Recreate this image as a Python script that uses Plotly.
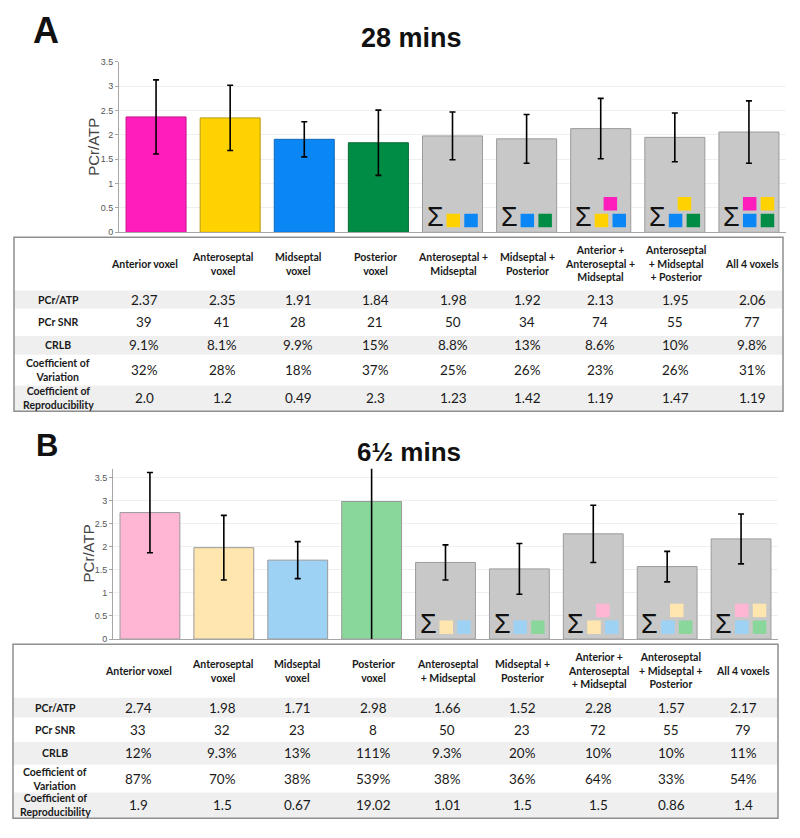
import plotly.graph_objects as go

# ---------------- data ----------------
categories = ["Anterior voxel", "Anteroseptal voxel", "Midseptal voxel", "Posterior voxel",
              "Anteroseptal + Midseptal", "Midseptal + Posterior",
              "Anterior + Anteroseptal + Midseptal", "Anteroseptal + Midseptal + Posterior",
              "All 4 voxels"]

header_a = ["Anterior voxel", "Anteroseptal<br>voxel", "Midseptal<br>voxel", "Posterior<br>voxel",
            "Anteroseptal +<br>Midseptal", "Midseptal +<br>Posterior",
            "Anterior +<br>Anteroseptal +<br>Midseptal", "Anteroseptal<br>+ Midseptal<br>+ Posterior",
            "All 4 voxels"]
header_b = ["Anterior voxel", "Anteroseptal<br>voxel", "Midseptal<br>voxel", "Posterior<br>voxel",
            "Anteroseptal<br>+ Midseptal", "Midseptal +<br>Posterior",
            "Anterior +<br>Anteroseptal<br>+ Midseptal", "Anteroseptal<br>+ Midseptal +<br>Posterior",
            "All 4 voxels"]
row_labels = ["PCr/ATP", "PCr SNR", "CRLB", "Coefficient of<br>Variation", "Coefficient of<br>Reproducibility"]

# Panel A (28 mins)
pcr_atp_a = [2.37, 2.35, 1.91, 1.84, 1.98, 1.92, 2.13, 1.95, 2.06]
err_a = [0.76, 0.67, 0.36, 0.67, 0.49, 0.50, 0.62, 0.50, 0.64]
snr_a = ["39", "41", "28", "21", "50", "34", "74", "55", "77"]
crlb_a = ["9.1%", "8.1%", "9.9%", "15%", "8.8%", "13%", "8.6%", "10%", "9.8%"]
cov_a = ["32%", "28%", "18%", "37%", "25%", "26%", "23%", "26%", "31%"]
cor_a = ["2.0", "1.2", "0.49", "2.3", "1.23", "1.42", "1.19", "1.47", "1.19"]

# Panel B (6 1/2 mins)
pcr_atp_b = [2.74, 1.98, 1.71, 2.98, 1.66, 1.52, 2.28, 1.57, 2.17]
err_b = [0.87, 0.70, 0.40, 3.50, 0.38, 0.55, 0.62, 0.33, 0.54]
snr_b = ["33", "32", "23", "8", "50", "23", "72", "55", "79"]
crlb_b = ["12%", "9.3%", "13%", "111%", "9.3%", "20%", "10%", "10%", "11%"]
cov_b = ["87%", "70%", "38%", "539%", "38%", "36%", "64%", "33%", "54%"]
cor_b = ["1.9", "1.5", "0.67", "19.02", "1.01", "1.5", "1.5", "0.86", "1.4"]

# which single voxels make up each combined bar (index into the first four)
combos = {4: [1, 2], 5: [2, 3], 6: [0, 1, 2], 7: [1, 2, 3], 8: [0, 1, 2, 3]}

colors_a = ["#FF1DBB", "#FFD200", "#0A86F5", "#008C45"]
edges_a = ["#c8178f", "#b89a10", "#1468b8", "#0b6a38"]
colors_b = ["#FFB6D4", "#FFE6AE", "#9DD2F5", "#8AD79C"]
edges_b = ["#9a9a9a"] * 4
gray = "#C8C8C8"
gray_edge = "#9b9b9b"

# ---------------- layout geometry ----------------
# page body has an 8px margin, so the figure is placed at (8, 8) in the window
OFF = 8
W, H = 792, 830
def px(x):
    return (x - OFF) / W
def py(y):
    return 1 - (y - OFF) / H

fig = go.Figure()

panels = [
    dict(xa="x", ya="y", yd=(57.5, 230), yr=3.5, vals=pcr_atp_a, err=err_a,
         cols=colors_a, edges=edges_a),
    dict(xa="x2", ya="y2", yd=(469.3, 641.7), yr=3.69, vals=pcr_atp_b, err=err_b,
         cols=colors_b, edges=edges_b),
]

idx = list(range(len(categories)))
annotations = []
shapes = []

for p in panels:
    fig.add_trace(go.Bar(
        x=idx, y=p["vals"], xaxis=p["xa"], yaxis=p["ya"], width=0.81,
        marker=dict(color=p["cols"] + [gray] * 5,
                    line=dict(color=p["edges"] + [gray_edge] * 5, width=1)),
        error_y=dict(type="data", array=p["err"], symmetric=True, color="black",
                     thickness=1.6, width=3),
        hovertext=categories, showlegend=False))
    # composition icons
    ppu = (p["yd"][1] - p["yd"][0]) / p["yr"]
    y_bot, y_top = 12.0 / ppu, 29.0 / ppu
    mx, my, mc = [], [], []
    for i, comp in combos.items():
        n = len(comp)
        if n == 2:
            top, bot = [], comp
        elif n == 3:
            top, bot = comp[:1], comp[1:]
        else:
            top, bot = comp[:2], comp[2:]
        for k, c in enumerate(bot):
            mx.append(i + 0.01 + 0.24 * k); my.append(y_bot); mc.append(p["cols"][c])
        if len(top) == 1:
            mx.append(i + 0.13); my.append(y_top); mc.append(p["cols"][top[0]])
        else:
            for k, c in enumerate(top):
                mx.append(i + 0.01 + 0.24 * k); my.append(y_top); mc.append(p["cols"][c])
        annotations.append(dict(text="Σ", x=i - 0.235, y=0, xref=p["xa"], yref=p["ya"],
                                xanchor="center", yanchor="bottom", yshift=-2, showarrow=False,
                                font=dict(family="Liberation Sans", size=27, color="#111")))
    fig.add_trace(go.Scatter(x=mx, y=my, xaxis=p["xa"], yaxis=p["ya"], mode="markers",
                             marker=dict(symbol="square", size=13.5, color=mc, line=dict(width=0)),
                             hoverinfo="skip", showlegend=False))

axis_common = dict(showline=True, linecolor="#a6a6a6", linewidth=1, zeroline=False)
tickfont = dict(family="Liberation Sans", size=9, color="#555")
fig.update_layout(
    xaxis=dict(domain=[px(119), px(786)], range=[-0.5, 8.5], showticklabels=False, ticks="",
               showgrid=False, anchor="y", **axis_common),
    yaxis=dict(domain=[py(230), py(57.5)], range=[0, 3.5], dtick=0.5, anchor="x",
               showgrid=True, gridcolor="#efefef", ticks="outside", ticklen=3, tickcolor="#a6a6a6",
               tickfont=tickfont, **axis_common),
    xaxis2=dict(domain=[px(113), px(778)], range=[-0.5, 8.5], showticklabels=False, ticks="",
                showgrid=False, anchor="y2", **axis_common),
    yaxis2=dict(domain=[py(641.7), py(469.3)], range=[0, 3.69], dtick=0.5, anchor="x2",
                showgrid=True, gridcolor="#efefef", ticks="outside", ticklen=3, tickcolor="#a6a6a6",
                tickfont=tickfont, **axis_common),
)

# titles and panel letters
extra = [
    dict(text="<b>A</b>", x=px(46), y=py(26), font=dict(family="Liberation Sans", size=36, color="#111")),
    dict(text="<b>28 mins</b>", x=px(412), y=py(33), font=dict(family="Liberation Sans", size=27, color="#111")),
    dict(text="<b>B</b>", x=px(47), y=py(446), font=dict(family="Liberation Sans", size=31, color="#111")),
    dict(text="<b>6½ mins</b>", x=px(409), y=py(452), font=dict(family="Liberation Sans", size=26, color="#111")),
    dict(text="PCr/ATP", x=px(93.5), y=py(144), textangle=-90,
         font=dict(family="Liberation Sans", size=15, color="#444")),
    dict(text="PCr/ATP", x=px(88), y=py(555), textangle=-90,
         font=dict(family="Liberation Sans", size=15, color="#444")),
]
for a in extra:
    a.update(xref="paper", yref="paper", showarrow=False, xanchor="center", yanchor="middle")
annotations += extra

# ---------------- tables ----------------
tables = [
    dict(left=14, right=783, bounds=[235, 289, 307, 335, 354, 385, 411],
         colx=[58, 144, 222, 298, 375, 453, 527, 600, 675, 752], header=header_a,
         cols=[pcr_atp_a, snr_a, crlb_a, cov_a, cor_a]),
    dict(left=13, right=778, bounds=[647, 701, 721, 746, 769, 797, 823],
         colx=[55, 138, 222, 297, 373, 447, 522, 598, 671, 743], header=header_b,
         cols=[pcr_atp_b, snr_b, crlb_b, cov_b, cor_b]),
]
font_tab = "Lato"
cell = dict(xref="paper", yref="paper", showarrow=False, xanchor="center", yanchor="middle",
            align="center")
for t in tables:
    b = t["bounds"]
    # banded rows
    for r in range(5):
        if r % 2 == 0:
            shapes.append(dict(type="rect", xref="paper", yref="paper",
                               x0=px(t["left"]), x1=px(t["right"]), y0=py(b[r + 2]), y1=py(b[r + 1]),
                               fillcolor="#efefef", line=dict(width=0), layer="below"))
    shapes.append(dict(type="rect", xref="paper", yref="paper",
                       x0=px(t["left"]), x1=px(t["right"]), y0=py(b[-1]), y1=py(b[0]),
                       line=dict(color="#8f8f8f", width=1.5), fillcolor="rgba(0,0,0,0)"))
    hy = (b[0] + b[1]) / 2
    for j, h in enumerate(t["header"]):
        annotations.append(dict(text="<b>" + h + "</b>", x=px(t["colx"][j + 1]), y=py(hy),
                                font=dict(family=font_tab, size=10.5, color="#1a1a1a"), **cell))
    for r, lab in enumerate(row_labels):
        cy = (b[r + 1] + b[r + 2]) / 2
        annotations.append(dict(text="<b>" + lab + "</b>", x=px(t["colx"][0]), y=py(cy),
                                font=dict(family=font_tab, size=10.5, color="#1a1a1a"), **cell))
        vals = t["cols"][r]
        for j in range(9):
            v = vals[j]
            txt = f"{v:.2f}" if isinstance(v, float) else v
            annotations.append(dict(text=txt, x=px(t["colx"][j + 1]), y=py(cy),
                                    font=dict(family=font_tab, size=13.5, color="#1a1a1a"), **cell))

fig.update_layout(width=W, height=H, margin=dict(l=0, r=0, t=0, b=0),
                  paper_bgcolor="white", plot_bgcolor="white", bargap=0.19,
                  annotations=annotations, shapes=shapes)

fig.write_html("out.html")
